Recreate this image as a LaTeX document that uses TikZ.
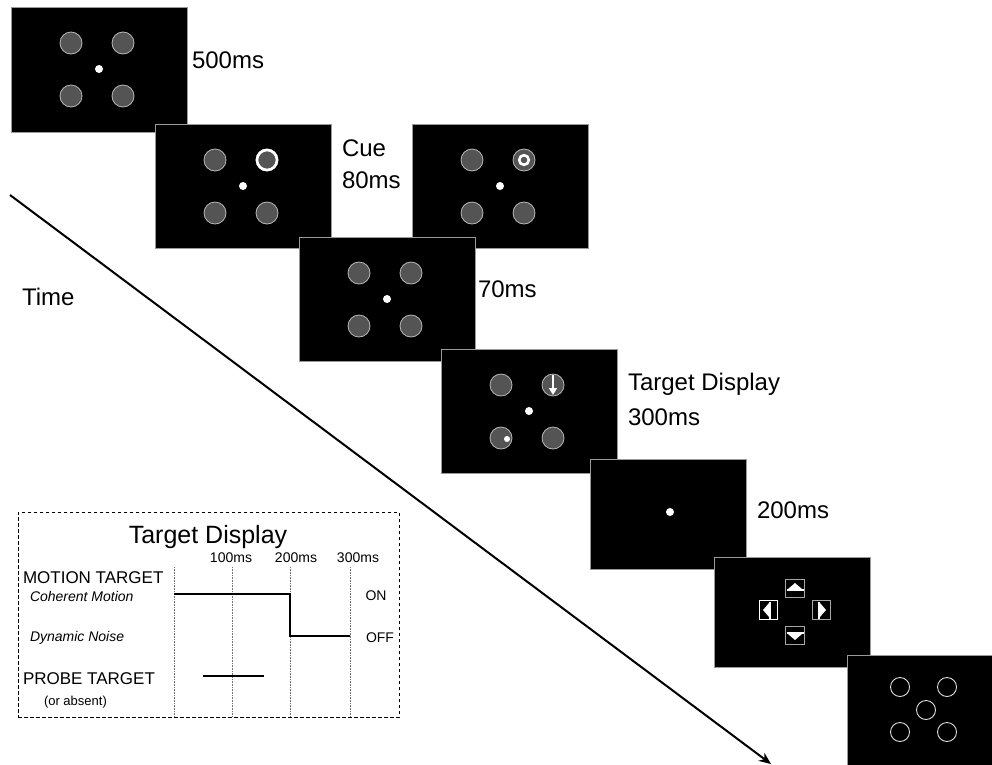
\documentclass[tikz,border=0pt]{standalone}
\usepackage{fontspec}
\setmainfont{Liberation Sans}
\usetikzlibrary{arrows.meta}
\newcommand\fourdiscs[2]{%
  \foreach \dx/\dy in {60/36,112/36,60/89,112/89}{\draw[disc] (#1+\dx,#2+\dy) circle (11pt);}
  \fill[white] (#1+88,#2+62) circle (4pt);}
\newcommand\arrowbox[4]{%
  \begin{scope}[shift={(#1,#2)},rotate=#3]
    \draw[draw=#4,line width=1pt] (-9.5,-9) rectangle (9.5,9);
    \fill[white] (-7,1) -- (0,-5) -- (7,1) -- cycle;
    \fill[white] (-8.5,1) rectangle (8.5,3);
  \end{scope}}
\begin{document}
\begin{tikzpicture}[x=1pt,y=-1pt,
  scr/.style={fill=black,draw=black!40,line width=1pt,inner sep=0,outer sep=0,anchor=north west,minimum width=176pt,minimum height=124pt},
  sscr/.style={scr,minimum width=156pt,minimum height=110pt},
  disc/.style={fill=black!67,draw=black!28,line width=0.8pt},
  ring/.style={draw=black!12,line width=0.9pt},
  lbl/.style={inner sep=0,outer sep=0,anchor=base west,font=\fontsize{24}{28}\selectfont},
  biglbl/.style={lbl,font=\fontsize{17}{20}\selectfont},
  itlbl/.style={lbl,font=\fontsize{14}{17}\selectfont\itshape},
  ticklbl/.style={inner sep=0,outer sep=0,anchor=base,font=\fontsize{14}{17}\selectfont},
  grid/.style={draw=black!55,line width=0.8pt,dash pattern=on 0.8pt off 0.8pt},
  signal/.style={line width=2pt}
]
\useasboundingbox (0,0) rectangle (992,764);

% time arrow
\coordinate (t0) at (10,195);
\coordinate (t1) at (771,764);
\draw[line width=2pt,-{Stealth[length=12pt,width=10pt]}] (t0) -- (t1);
\node[lbl] (time) at (22,305) {Time};

% screen 1
\node[scr,minimum height=125pt] (s1) at (11,7) {};
\fourdiscs{11}{7}
\node[lbl] (l500) at (192,68) {500ms};

% screen 2 (cue)
\node[scr] (s2) at (155,124) {};
\fourdiscs{155}{124}
\draw[white,line width=2.6pt] (267,160) circle (10pt);
\node[lbl] (lcue) at (342,156) {Cue};
\node[lbl] (l80) at (342,188) {80ms};

% screen 3 (alternative cue)
\node[scr] (s3) at (412,124) {};
\fourdiscs{412}{124}
\draw[white,line width=2.6pt] (524,160) circle (4.8pt);

% screen 4
\node[scr] (s4) at (299,237) {};
\fourdiscs{299}{237}
\node[lbl] (l70) at (478,297) {70ms};

% screen 5 (target display)
\node[scr] (s5) at (441,349) {};
\fourdiscs{441}{349}
\draw[white,line width=2.4pt,-{Triangle[width=8pt,length=7pt]}] (553,375) -- (553,395);
\fill[white] (507,439) circle (3pt);
\node[lbl] (ltd) at (628,390) {Target Display};
\node[lbl] (l300) at (628,425) {300ms};

% screen 6
\node[sscr] (s6) at (590,459) {};
\fill[white] (670,512) circle (4pt);
\node[lbl] (l200) at (757,518) {200ms};

% screen 7 (response)
\node[sscr] (s7) at (714,557) {};
\arrowbox{795}{588}{0}{black!35}
\arrowbox{795}{635}{180}{black!35}
\arrowbox{768}{610}{90}{white}
\arrowbox{821}{610}{-90}{black!35}

% screen 8
\node[sscr] (s8) at (847,655) {};
\foreach \cx/\cy in {900/687,947/687,926/710,900/732,947/732}{\draw[ring] (\cx,\cy) circle (9.5pt);}

% inset
\node[draw,line width=0.8pt,dash pattern=on 3.5pt off 2.5pt,inner sep=0,anchor=north west,minimum width=381pt,minimum height=205pt] (box) at (18,512) {};
\node[inner sep=0,anchor=base,font=\fontsize{25}{30}\selectfont] (title) at (208,543) {Target Display};
\node[ticklbl] (t100) at (231,562) {100ms};
\node[ticklbl] (t200) at (296,562) {200ms};
\node[ticklbl] (t300) at (358,562) {300ms};
\foreach \gx in {174,232,290,350}{\draw[grid] (\gx,567) -- (\gx,717);}
\draw[signal] (174,594) -- (290,594) -- (290,636) -- (350,636);
\draw[signal] (203,676) -- (264,676);
\node[ticklbl] (on) at (376,600) {ON};
\node[ticklbl] (off) at (380,642) {OFF};
\node[biglbl] (mt) at (23,583) {MOTION TARGET};
\node[itlbl] (cm) at (30,601) {Coherent Motion};
\node[itlbl] (dn) at (30,641) {Dynamic Noise};
\node[biglbl] (pt) at (23,684) {PROBE TARGET};
\node[lbl,font=\fontsize{13}{16}\selectfont] (oa) at (44,705) {(or absent)};
\end{tikzpicture}
\end{document}
